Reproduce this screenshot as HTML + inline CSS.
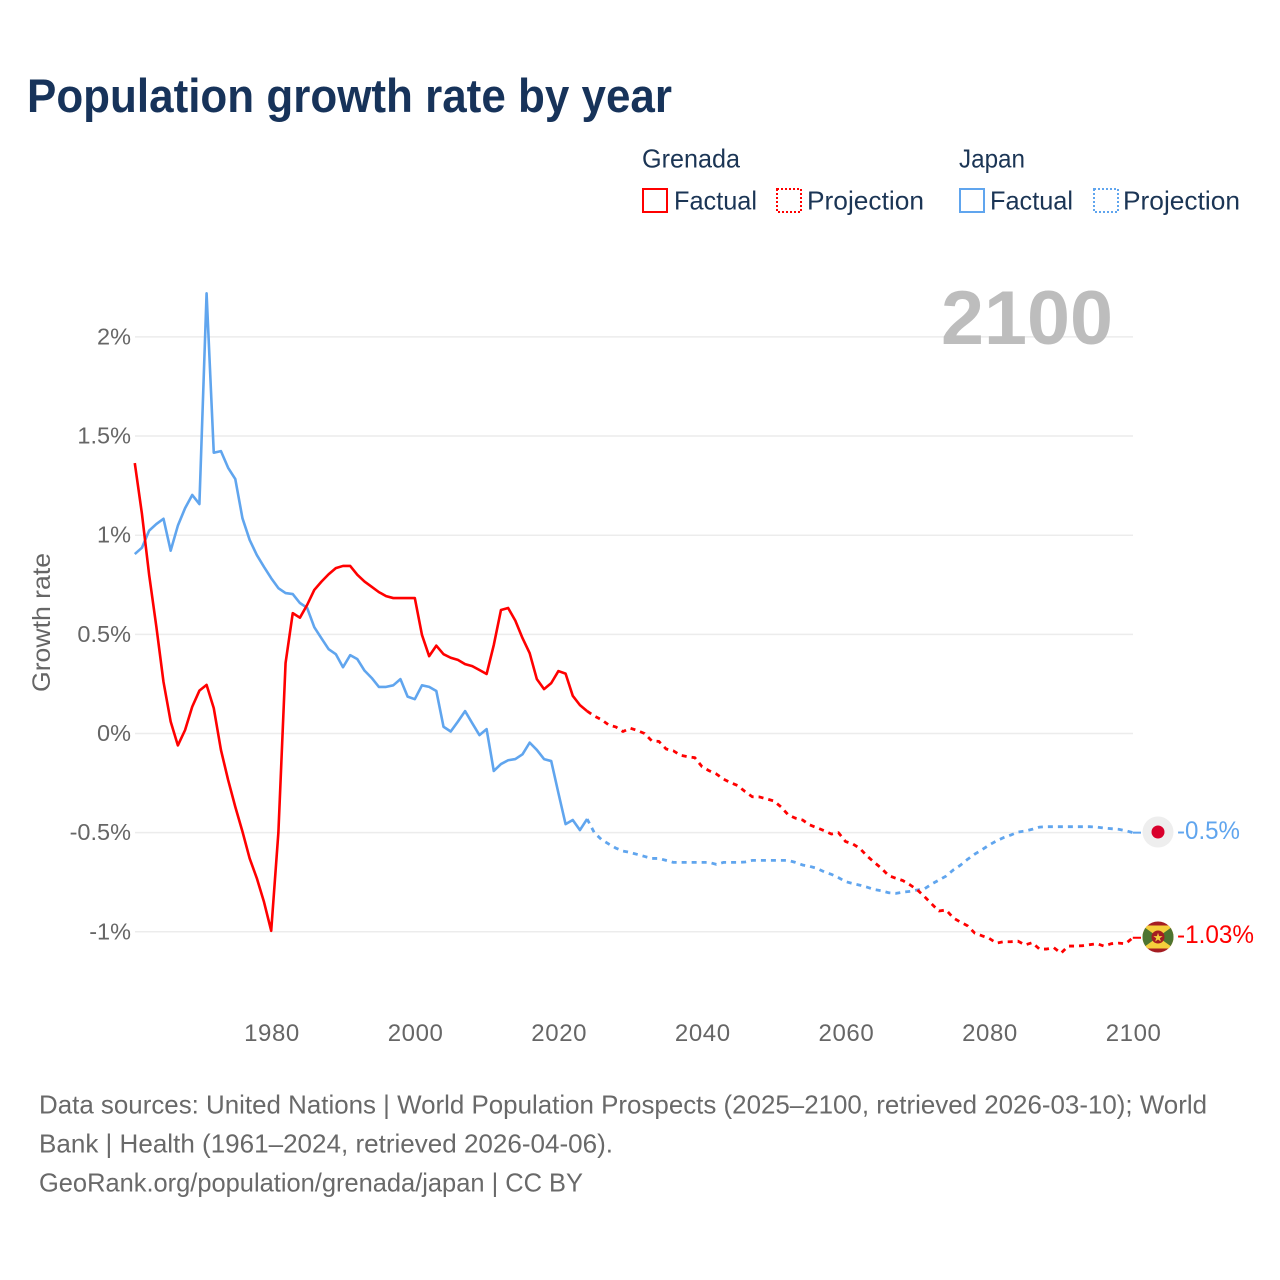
<!DOCTYPE html>
<html lang="en">
<head>
<meta charset="utf-8">
<title>Population growth rate by year</title>
<style>
html,body{margin:0;padding:0;background:#fff;}
body{width:1280px;height:1280px;overflow:hidden;}
svg{display:block;font-family:"Liberation Sans",sans-serif;}
</style>
</head>
<body>
<svg id="chart" width="1280" height="1280" viewBox="0 0 1280 1280" xmlns="http://www.w3.org/2000/svg">
  <rect width="1280" height="1280" fill="#fff"/>
  <text x="27" y="112" font-size="47" font-weight="700" fill="#17335a" textLength="645" lengthAdjust="spacingAndGlyphs">Population growth rate by year</text>

  <g font-size="26" fill="#1b3555">
    <text x="642" y="167.5" textLength="98" lengthAdjust="spacingAndGlyphs">Grenada</text>
    <text x="959" y="167.5" textLength="66" lengthAdjust="spacingAndGlyphs">Japan</text>
    <rect x="643" y="189" width="24" height="23" fill="#fff" stroke="#ff0000" stroke-width="2"/>
    <text x="674" y="209.5" textLength="83" lengthAdjust="spacingAndGlyphs">Factual</text>
    <rect x="777" y="189" width="24" height="23" fill="#fff" stroke="#ff0000" stroke-width="2" stroke-dasharray="2 2"/>
    <text x="807" y="209.5" textLength="117" lengthAdjust="spacingAndGlyphs">Projection</text>
    <rect x="960" y="189" width="24" height="23" fill="#fff" stroke="#60a5ee" stroke-width="2"/>
    <text x="990" y="209.5" textLength="83" lengthAdjust="spacingAndGlyphs">Factual</text>
    <rect x="1094" y="189" width="24" height="23" fill="#fff" stroke="#60a5ee" stroke-width="2" stroke-dasharray="2 2"/>
    <text x="1123" y="209.5" textLength="117" lengthAdjust="spacingAndGlyphs">Projection</text>
  </g>

  <g id="grid"></g>
  <g id="yticks"></g>
  <g id="xticks"></g>

  <text x="941" y="344" font-size="76" font-weight="700" fill="#bdbdbd" textLength="172" lengthAdjust="spacingAndGlyphs">2100</text>
  <text transform="translate(50,692) rotate(-90)" font-size="25" fill="#666" textLength="139" lengthAdjust="spacingAndGlyphs">Growth rate</text>

  <g id="series"></g>

  <g id="flag-japan" transform="translate(1158,832)">
    <circle r="15.5" fill="#eeeeee"/>
    <circle r="6.5" fill="#d9002c"/>
  </g>
  <g id="flag-grenada" transform="translate(1158,937)">
    <clipPath id="flag-clip"><circle r="15.5"/></clipPath>
    <g clip-path="url(#flag-clip)">
      <rect x="-16" y="-16" width="32" height="32" fill="#a51d22"/>
      <rect x="-16" y="-11.5" width="32" height="23" fill="#f5cf3c"/>
      <path d="M-16,-11.5 L0,0 L-16,11.5 Z" fill="#4d7430"/>
      <path d="M16,-11.5 L0,0 L16,11.5 Z" fill="#4d7430"/>
    </g>
    <circle r="6.5" fill="#a51d22"/>
    <text x="0" y="4.4" text-anchor="middle" font-size="12" fill="#f5cf3c">★</text>
  </g>

  <text id="end-label-japan" x="1177" y="839" font-size="25" fill="#60a5ee" textLength="63" lengthAdjust="spacingAndGlyphs">-0.5%</text>
  <text id="end-label-grenada" x="1177" y="943" font-size="25" fill="#ff0000" textLength="77" lengthAdjust="spacingAndGlyphs">-1.03%</text>

  <g font-size="26" fill="#696969">
    <text x="39" y="1113.5" textLength="1168" lengthAdjust="spacingAndGlyphs">Data sources: United Nations | World Population Prospects (2025–2100, retrieved 2026-03-10); World</text>
    <text x="39" y="1152.5" textLength="574" lengthAdjust="spacingAndGlyphs">Bank | Health (1961–2024, retrieved 2026-04-06).</text>
    <text x="39" y="1191.5" textLength="544" lengthAdjust="spacingAndGlyphs">GeoRank.org/population/grenada/japan | CC BY</text>
  </g>
</svg>
<script>
const firstFactualYear = 1961;
const firstProjectionYear = 2025;
const yTickValues = [2, 1.5, 1, 0.5, 0, -0.5, -1];
const yTickLabels = ["2%", "1.5%", "1%", "0.5%", "0%", "-0.5%", "-1%"];
const xTickValues = [1980, 2000, 2020, 2040, 2060, 2080, 2100];
const xTickLabels = ["1980", "2000", "2020", "2040", "2060", "2080", "2100"];

const grenadaFactual = [1.364,1.107,0.80,0.54,0.26,0.06,-0.06,0.017,0.135,0.216,0.245,0.128,-0.083,-0.234,-0.37,-0.495,-0.63,-0.73,-0.85,-0.995,-0.50,0.355,0.607,0.584,0.648,0.724,0.766,0.803,0.834,0.845,0.845,0.80,0.766,0.74,0.713,0.693,0.683,0.683,0.683,0.683,0.497,0.39,0.443,0.40,0.382,0.371,0.35,0.34,0.32,0.30,0.446,0.623,0.633,0.569,0.481,0.405,0.274,0.224,0.254,0.315,0.302,0.19,0.143,0.113];
const grenadaProjection = [0.088,0.07,0.043,0.033,0.01,0.027,0.015,0.0,-0.037,-0.04,-0.078,-0.087,-0.11,-0.117,-0.122,-0.167,-0.188,-0.204,-0.23,-0.248,-0.263,-0.293,-0.319,-0.32,-0.33,-0.34,-0.37,-0.41,-0.427,-0.436,-0.461,-0.475,-0.49,-0.507,-0.50,-0.545,-0.557,-0.58,-0.618,-0.65,-0.68,-0.717,-0.73,-0.742,-0.764,-0.789,-0.823,-0.86,-0.895,-0.89,-0.93,-0.951,-0.97,-1.007,-1.02,-1.033,-1.057,-1.05,-1.05,-1.047,-1.066,-1.055,-1.087,-1.087,-1.08,-1.108,-1.072,-1.072,-1.07,-1.065,-1.06,-1.072,-1.06,-1.057,-1.06,-1.03];
const japanFactual = [0.905,0.937,1.023,1.056,1.083,0.922,1.048,1.136,1.203,1.157,2.22,1.416,1.424,1.34,1.283,1.085,0.976,0.90,0.84,0.783,0.733,0.708,0.703,0.658,0.634,0.536,0.48,0.425,0.40,0.334,0.395,0.375,0.317,0.28,0.235,0.235,0.243,0.274,0.186,0.173,0.243,0.235,0.214,0.034,0.01,0.06,0.113,0.052,-0.008,0.022,-0.189,-0.154,-0.135,-0.129,-0.105,-0.046,-0.083,-0.129,-0.139,-0.30,-0.457,-0.436,-0.487,-0.431];
const japanProjection = [-0.50,-0.535,-0.557,-0.578,-0.593,-0.60,-0.61,-0.62,-0.63,-0.63,-0.64,-0.65,-0.65,-0.65,-0.65,-0.65,-0.65,-0.66,-0.65,-0.65,-0.65,-0.648,-0.64,-0.64,-0.64,-0.64,-0.64,-0.64,-0.65,-0.663,-0.67,-0.68,-0.697,-0.71,-0.727,-0.747,-0.757,-0.765,-0.775,-0.787,-0.793,-0.803,-0.806,-0.80,-0.796,-0.789,-0.783,-0.759,-0.739,-0.719,-0.688,-0.664,-0.634,-0.608,-0.586,-0.562,-0.542,-0.525,-0.512,-0.497,-0.492,-0.483,-0.472,-0.47,-0.47,-0.47,-0.47,-0.47,-0.47,-0.47,-0.472,-0.477,-0.48,-0.483,-0.49,-0.50];

const SVG_NS = "http://www.w3.org/2000/svg";
const GRID_LEFT = 135;
const GRID_RIGHT = 1133;
const RED = "#ff0000";
const BLUE = "#60a5ee";

function xScale(year) {
  return 271.2 + (year - 1980) * 7.18;
}
function yScale(value) {
  return 733.5 - value * 198.3;
}
function toPoints(startYear, values) {
  return values.map(function (v, i) {
    return xScale(startYear + i).toFixed(2) + "," + yScale(v).toFixed(2);
  }).join(" ");
}

const gridGroup = document.getElementById("grid");
const yTickGroup = document.getElementById("yticks");
const xTickGroup = document.getElementById("xticks");
const seriesGroup = document.getElementById("series");

yTickValues.forEach(function (value, i) {
  const line = document.createElementNS(SVG_NS, "line");
  line.setAttribute("x1", GRID_LEFT);
  line.setAttribute("x2", GRID_RIGHT);
  line.setAttribute("y1", yScale(value));
  line.setAttribute("y2", yScale(value));
  line.setAttribute("stroke", "#ececec");
  line.setAttribute("stroke-width", "1.5");
  
  
  gridGroup.appendChild(line);

  const label = document.createElementNS(SVG_NS, "text");
  label.setAttribute("x", 131);
  label.setAttribute("y", yScale(value) + 7.5);
  label.setAttribute("text-anchor", "end");
  label.setAttribute("font-size", "23.5");
  label.setAttribute("fill", "#666");
  label.textContent = yTickLabels[i];
  
  
  yTickGroup.appendChild(label);
});

xTickValues.forEach(function (year, i) {
  const label = document.createElementNS(SVG_NS, "text");
  label.setAttribute("x", 272 + (year - 1980) * 7.18);
  label.setAttribute("y", 1041);
  label.setAttribute("text-anchor", "middle");
  label.setAttribute("font-size", "24");
  label.setAttribute("fill", "#666");
  label.setAttribute("letter-spacing", "0.6");
  label.textContent = xTickLabels[i];
  
  
  xTickGroup.appendChild(label);
});

function drawLine(startYear, values, color, dashed, name) {
  const line = document.createElementNS(SVG_NS, "polyline");
  line.setAttribute("points", toPoints(startYear, values));
  line.setAttribute("fill", "none");
  line.setAttribute("stroke", color);
  line.setAttribute("stroke-width", dashed ? "2.8" : "2.6");
  line.setAttribute("stroke-linejoin", "round");
  if (dashed) {
    line.setAttribute("stroke-dasharray", "5 5");
  }
  
  
  seriesGroup.appendChild(line);
}

function drawConnector(value, color, name) {
  const line = document.createElementNS(SVG_NS, "line");
  line.setAttribute("x1", xScale(2100));
  line.setAttribute("x2", 1141);
  line.setAttribute("y1", yScale(value));
  line.setAttribute("y2", yScale(value));
  line.setAttribute("stroke", color);
  line.setAttribute("stroke-width", "2");
  
  
  seriesGroup.appendChild(line);
}

const lastFactualYear = firstFactualYear + japanFactual.length - 1;
drawLine(lastFactualYear, [japanFactual[japanFactual.length - 1]].concat(japanProjection), BLUE, true, "japan-projection-line");
drawLine(firstFactualYear, japanFactual, BLUE, false, "japan-factual-line");
drawLine(lastFactualYear, [grenadaFactual[grenadaFactual.length - 1]].concat(grenadaProjection), RED, true, "grenada-projection-line");
drawLine(firstFactualYear, grenadaFactual, RED, false, "grenada-factual-line");
drawConnector(japanProjection[japanProjection.length - 1], BLUE, "japan-end-connector");
drawConnector(grenadaProjection[grenadaProjection.length - 1], RED, "grenada-end-connector");
</script>
</body>
</html>
